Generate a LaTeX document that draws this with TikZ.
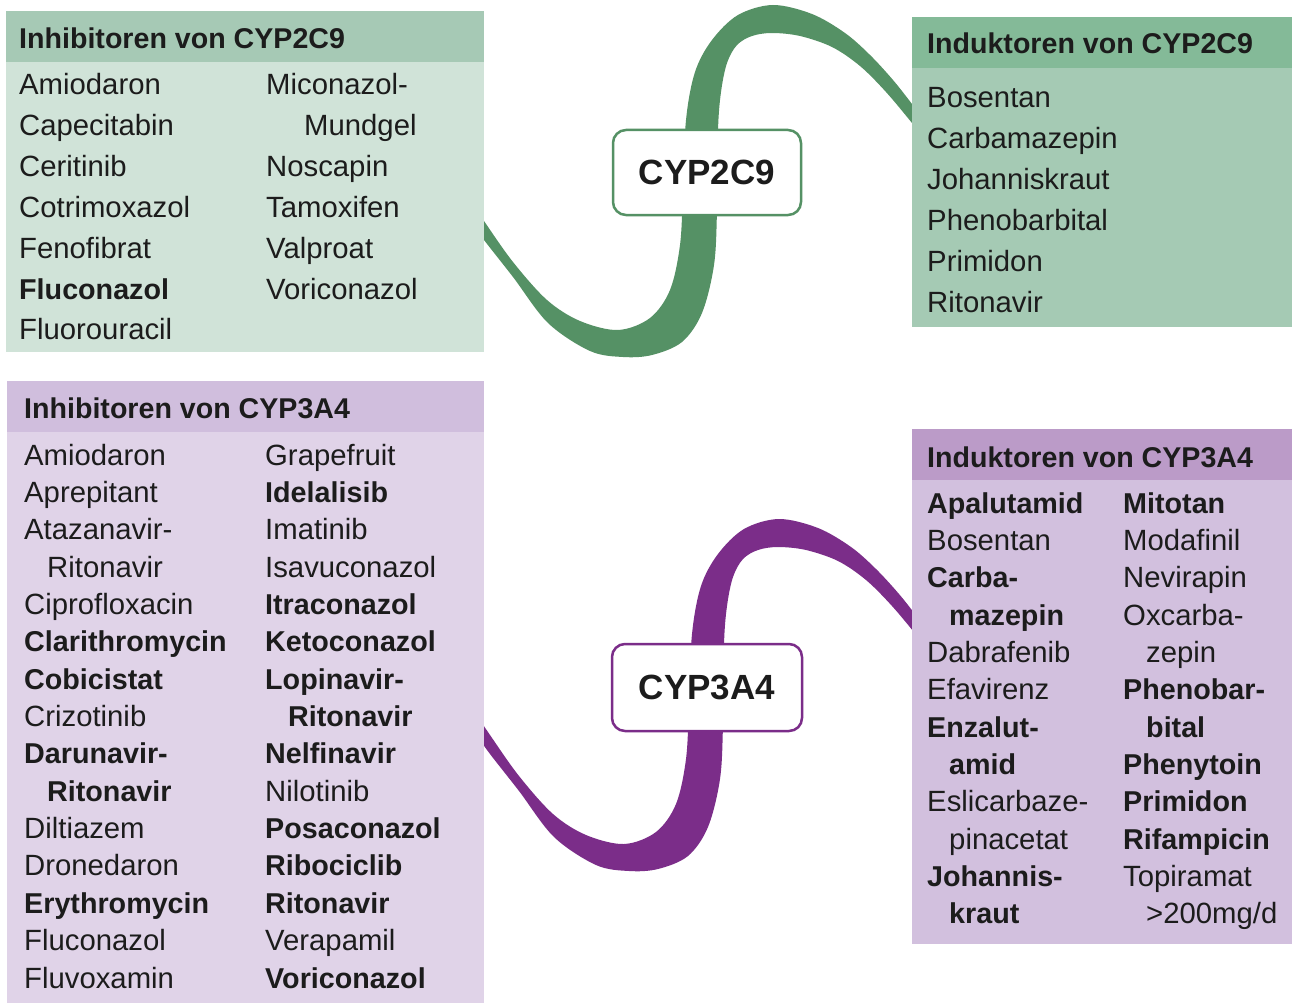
\documentclass[tikz,border=0pt]{standalone}
\usepackage{fontspec}
\setmainfont{Liberation Sans}
\definecolor{ink}{HTML}{1C1C1C}
\definecolor{gdark}{HTML}{559165}
\definecolor{ghead1}{HTML}{A6C9B5}
\definecolor{gbody1}{HTML}{D0E3D8}
\definecolor{ghead2}{HTML}{84BA98}
\definecolor{gbody2}{HTML}{A5CAB4}
\definecolor{pdark}{HTML}{7B2D89}
\definecolor{phead1}{HTML}{D0BEDD}
\definecolor{pbody1}{HTML}{E0D3E8}
\definecolor{phead2}{HTML}{BB9BC8}
\definecolor{pbody2}{HTML}{D2C0DE}
\newcommand\bd[1]{{\fontsize{28.7}{35}\selectfont\bfseries #1}}
\newcommand\ribbonfill[2]{%
  \fill[#1, shift={#2}] plot[smooth, tension=0.55] coordinates {
    (470,200) (484,221) (513,262) (547,300) (580,321) (618,330) (650,318)
    (670,290) (680,245) (683,190) (686,120) (695,72) (712,40) (738,15)
    (773,5) (812,14) (845,33) (870,55) (893,80) (912,104) (924,120)}
  -- plot[smooth, tension=0.55] coordinates {
    (924,138) (912,123) (886,92) (860,66) (832,47) (800,36) (772,33)
    (752,36) (737,45) (727,63) (721,92) (718,130) (717,210) (714,265)
    (702,313) (682,342) (652,355) (623,357) (590,351) (548,323) (513,277)
    (484,240) (472,223)} -- cycle;}
\begin{document}
\begin{tikzpicture}[x=1pt,y=-1pt,
  panel/.style={anchor=north west, inner sep=0pt, outer sep=0pt},
  txt/.style={anchor=base west, inner sep=0pt, text=ink, font=\fontsize{29.3}{35}\selectfont},
  head/.style={anchor=base west, inner sep=0pt, text=ink, font=\fontsize{28.6}{34}\selectfont\bfseries},
  hub/.style={draw, fill=white, line width=2.5pt, rounded corners=13pt, minimum width=188pt,
    minimum height=85pt, inner sep=0pt, text=ink, font=\fontsize{35}{40}\selectfont\bfseries}]
\useasboundingbox (0,0) rectangle (1292,1003);
\fill[white] (0,0) rectangle (1292,1003);

% ribbons
\ribbonfill{gdark}{(0,0)}
\ribbonfill{pdark}{(6,514)}

% panels
\node[panel, fill=gbody1, minimum width=478pt, minimum height=341pt] (boxA) at (6,11) {};
\node[panel, fill=ghead1, minimum width=478pt, minimum height=51pt] (headA) at (6,11) {};
\node[panel, fill=gbody2, minimum width=380pt, minimum height=310pt] (boxB) at (912,17) {};
\node[panel, fill=ghead2, minimum width=380pt, minimum height=51pt] (headB) at (912,17) {};
\node[panel, fill=pbody1, minimum width=477pt, minimum height=622pt] (boxC) at (7,381) {};
\node[panel, fill=phead1, minimum width=477pt, minimum height=51pt] (headC) at (7,381) {};
\node[panel, fill=pbody2, minimum width=380pt, minimum height=515pt] (boxD) at (912,429) {};
\node[panel, fill=phead2, minimum width=380pt, minimum height=51pt] (headD) at (912,429) {};

% headers
\node[head] (tA) at (19,48.8) {Inhibitoren von CYP2C9};
\node[head] (tB) at (927,53.2) {Induktoren von CYP2C9};
\node[head] (tC) at (24,418.8) {Inhibitoren von CYP3A4};
\node[head] (tD) at (927,467.2) {Induktoren von CYP3A4};

% box A
\foreach \d/\t [count=\i from 0] in {0/Amiodaron, 0/Capecitabin, 0/Ceritinib, 0/Cotrimoxazol,
  0/Fenofibrat, 0/\bd{Fluconazol}, 0/Fluorouracil}
  \node[txt] (aL\i) at ({19+\d},{95+40.8*\i}) {\t};
\foreach \d/\t [count=\i from 0] in {0/Miconazol-, 38/Mundgel, 0/Noscapin, 0/Tamoxifen,
  0/Valproat, 0/Voriconazol}
  \node[txt] (aR\i) at ({266+\d},{95+40.8*\i}) {\t};

% box B
\foreach \t [count=\i from 0] in {Bosentan, Carbamazepin, Johanniskraut, Phenobarbital,
  Primidon, Ritonavir}
  \node[txt] (bL\i) at (927,{108+40.8*\i}) {\t};

% box C
\foreach \d/\t [count=\i from 0] in {0/Amiodaron, 0/Aprepitant, 0/Atazanavir-, 23/Ritonavir,
  0/Ciprofloxacin, 0/\bd{Clarithromycin}, 0/\bd{Cobicistat}, 0/Crizotinib,
  0/\bd{Darunavir-}, 23/\bd{Ritonavir}, 0/Diltiazem, 0/Dronedaron,
  0/\bd{Erythromycin}, 0/Fluconazol, 0/Fluvoxamin}
  \node[txt] (cL\i) at ({24+\d},{465+37.36*\i}) {\t};
\foreach \d/\t [count=\i from 0] in {0/Grapefruit, 0/\bd{Idelalisib}, 0/Imatinib,
  0/Isavuconazol, 0/\bd{Itraconazol}, 0/\bd{Ketoconazol}, 0/\bd{Lopinavir-},
  23/\bd{Ritonavir}, 0/\bd{Nelfinavir}, 0/Nilotinib, 0/\bd{Posaconazol},
  0/\bd{Ribociclib}, 0/\bd{Ritonavir}, 0/Verapamil, 0/\bd{Voriconazol}}
  \node[txt] (cR\i) at ({265+\d},{465+37.36*\i}) {\t};

% box D
\foreach \d/\t [count=\i from 0] in {0/\bd{Apalutamid}, 0/Bosentan, 0/\bd{Carba-},
  22/\bd{mazepin}, 0/Dabrafenib, 0/Efavirenz, 0/\bd{Enzalut-}, 22/\bd{amid},
  0/Eslicarbaze-, 22/pinacetat, 0/\bd{Johannis-}, 22/\bd{kraut}}
  \node[txt] (dL\i) at ({927+\d},{513+37.36*\i}) {\t};
\foreach \d/\t [count=\i from 0] in {0/\bd{Mitotan}, 0/Modafinil, 0/Nevirapin,
  0/Oxcarba-, 23/zepin, 0/\bd{Phenobar-}, 23/\bd{bital}, 0/\bd{Phenytoin},
  0/\bd{Primidon}, 0/\bd{Rifampicin}, 0/Topiramat}
  \node[txt] (dR\i) at ({1123+\d},{513+37.36*\i}) {\t};
\node[txt] (dR11) at (1146,{513+37.36*11}) {>200mg/d};

% hubs
\node[hub, draw=gdark] (hubA) at (707,172.5) {CYP2C9};
\node[hub, draw=pdark, minimum width=190pt, minimum height=87pt] (hubB) at (707,687.5) {CYP3A4};
\end{tikzpicture}
\end{document}
